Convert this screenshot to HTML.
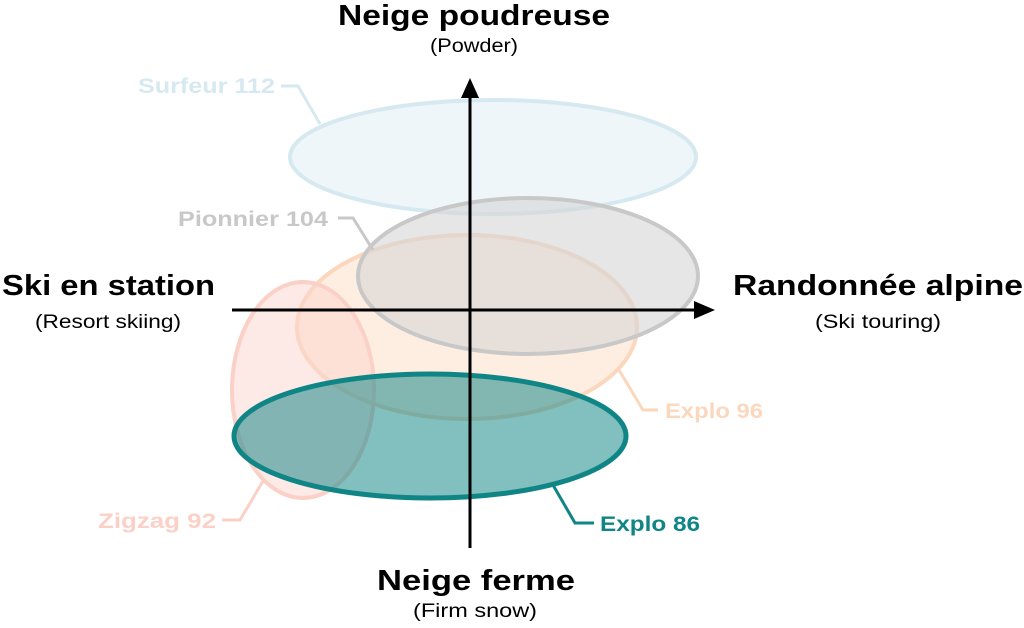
<!DOCTYPE html>
<html><head><meta charset="utf-8"><style>
html,body{margin:0;padding:0;background:#fff;}
svg{display:block;}
text{font-family:"Liberation Sans",sans-serif;}
</style></head><body>
<svg width="1024" height="628" viewBox="0 0 1024 628" xmlns="http://www.w3.org/2000/svg">
<ellipse cx="493" cy="157" rx="203" ry="57" fill="#eef6f9" stroke="#d6e9f0" stroke-width="4"/>
<ellipse cx="467" cy="327" rx="170" ry="92" fill="#fde3cf" fill-opacity="0.6" stroke="#fbd7be" stroke-width="4"/>
<ellipse cx="528" cy="276" rx="170" ry="78" fill="#d6d6d6" fill-opacity="0.6" stroke="#c8c8c8" stroke-width="4"/>
<ellipse cx="303" cy="390" rx="71" ry="108" fill="#fbd3cb" fill-opacity="0.5" stroke="#fbd0c6" stroke-width="4"/>
<ellipse cx="430" cy="436" rx="196" ry="62" fill="#0f8585" fill-opacity="0.52" stroke="#0f8585" stroke-width="5"/>
<line x1="470" y1="95" x2="470" y2="548" stroke="#000" stroke-width="3"/>
<polygon points="470,78 461,98 479,98" fill="#000"/>
<line x1="232" y1="310" x2="698" y2="310" stroke="#000" stroke-width="3"/>
<polygon points="715,310 694,301 694,319" fill="#000"/>
<polyline points="281,86 298,86 320,124" fill="none" stroke="#d6e9f0" stroke-width="3"/>
<polyline points="338,218 353,218 373,250" fill="none" stroke="#c8c8c8" stroke-width="3"/>
<polyline points="619,370 643,410 658,410" fill="none" stroke="#fbd7be" stroke-width="3"/>
<polyline points="222,520 240,520 263,481" fill="none" stroke="#fbd0c6" stroke-width="3"/>
<polyline points="553,485 575,523 594,523" fill="none" stroke="#0f8585" stroke-width="3"/>
<g font-size="21" font-weight="bold" lengthAdjust="spacingAndGlyphs">
<text x="138" y="93" fill="#d6e9f0" textLength="137" lengthAdjust="spacingAndGlyphs">Surfeur 112</text>
<text x="178" y="226" fill="#c8c8c8" textLength="150" lengthAdjust="spacingAndGlyphs">Pionnier 104</text>
<text x="665" y="418" fill="#fbd7be" textLength="98" lengthAdjust="spacingAndGlyphs">Explo 96</text>
<text x="98" y="528" fill="#fbd0c6" textLength="118" lengthAdjust="spacingAndGlyphs">Zigzag 92</text>
<text x="600" y="531" fill="#0f8585" textLength="100" lengthAdjust="spacingAndGlyphs">Explo 86</text>
</g>
<text x="338" y="25" font-size="29" font-weight="bold" textLength="272" lengthAdjust="spacingAndGlyphs">Neige poudreuse</text>
<text x="430" y="52" font-size="19" textLength="88" lengthAdjust="spacingAndGlyphs">(Powder)</text>
<text x="2" y="295" font-size="29" font-weight="bold" textLength="213" lengthAdjust="spacingAndGlyphs">Ski en station</text>
<text x="35" y="328" font-size="19" textLength="146" lengthAdjust="spacingAndGlyphs">(Resort skiing)</text>
<text x="733" y="295" font-size="29" font-weight="bold" textLength="290" lengthAdjust="spacingAndGlyphs">Randonnée alpine</text>
<text x="815" y="328" font-size="19" textLength="126" lengthAdjust="spacingAndGlyphs">(Ski touring)</text>
<text x="377" y="590" font-size="29" font-weight="bold" textLength="198" lengthAdjust="spacingAndGlyphs">Neige ferme</text>
<text x="413" y="617" font-size="19" textLength="124" lengthAdjust="spacingAndGlyphs">(Firm snow)</text>
</svg>
</body></html>
